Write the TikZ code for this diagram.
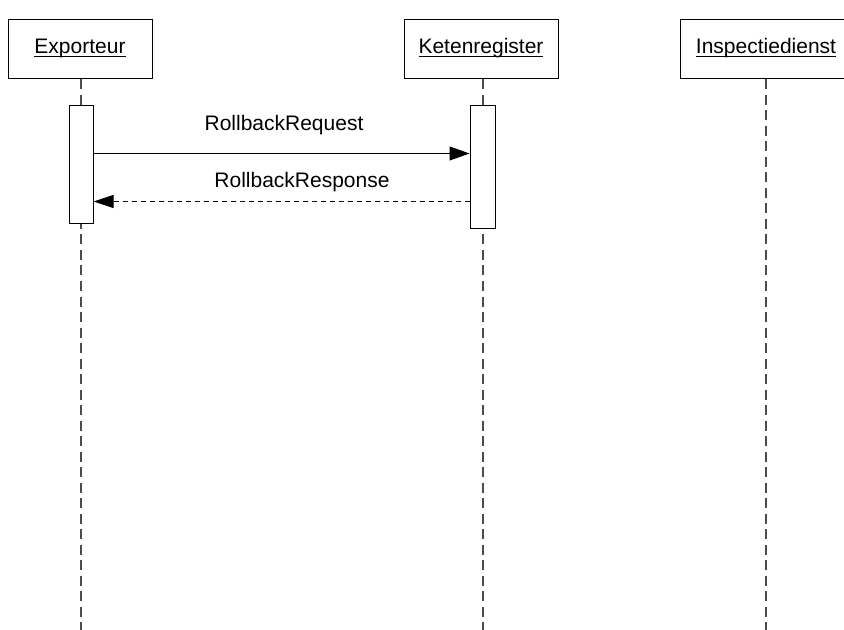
\documentclass[tikz,border=0pt]{standalone}
\usepackage{fontspec}
\setmainfont{Liberation Sans}
\usetikzlibrary{arrows.meta, positioning, calc}

\newcommand{\ulname}[1]{\underline{\smash{#1}}}

\begin{document}
\begin{tikzpicture}[
    x=0.5pt, y=-0.5pt,
    actor/.style={draw, line width=0.5pt, minimum height=29.5pt, inner sep=0pt,
                  text height=4pt, text depth=0pt,
                  font=\fontsize{10.5}{12.6}\selectfont},
    activ/.style={draw, line width=0.5pt, fill=white, minimum width=12pt, inner sep=0pt},
    life/.style={black!70, line width=0.55pt, dash pattern=on 5pt off 2.75pt},
    msg/.style={font=\fontsize{10.5}{12.6}\selectfont},
    call/.style={-{Triangle[length=10pt, width=7pt]}, line width=0.5pt, black},
    reply/.style={-{Triangle[length=10pt, width=6.5pt]}, line width=0.5pt, black,
                  dash pattern=on 2.5pt off 2pt},
  ]
  \useasboundingbox (0,0) rectangle (844,630);
  \clip (0,0) rectangle (844,630);

  % Participants
  \node[actor, minimum width=72pt] (exp) at (80,49.5) {\ulname{Exporteur}};
  \node[actor, minimum width=77pt] (ket) at (481,49.5) {\ulname{Ketenregister}};
  \node[actor, minimum width=86pt] (insp) at (766,49.5) {\ulname{Inspectiedienst}};

  % Lifeline ends
  \coordinate (expEnd) at (81,630);
  \coordinate (ketEnd) at (483,630);
  \coordinate (inspEnd) at (766,630);

  % Lifelines
  \draw[life] (expEnd |- exp.south) -- (expEnd);
  \draw[life] (ketEnd |- ket.south) -- (ketEnd);
  \draw[life] (inspEnd |- insp.south) -- (inspEnd);

  % Activations
  \node[activ, minimum height=59pt] (actExp) at (81,165) {};
  \node[activ, minimum width=12.5pt, minimum height=61.5pt] (actKet) at (482.5,167.5) {};

  % Messages
  \coordinate (reqA) at ([yshift=-24pt]actExp.north east);
  \coordinate (repA) at ([yshift=-48pt]actKet.north west);
  \draw[call] (reqA) -- (reqA -| actKet.west);
  \draw[reply] (repA) -- (repA -| actExp.east);

  \node[msg] (reqLbl) at (284,125) {RollbackRequest};
  \node[msg] (repLbl) at (302,182) {RollbackResponse};

\end{tikzpicture}
\end{document}
